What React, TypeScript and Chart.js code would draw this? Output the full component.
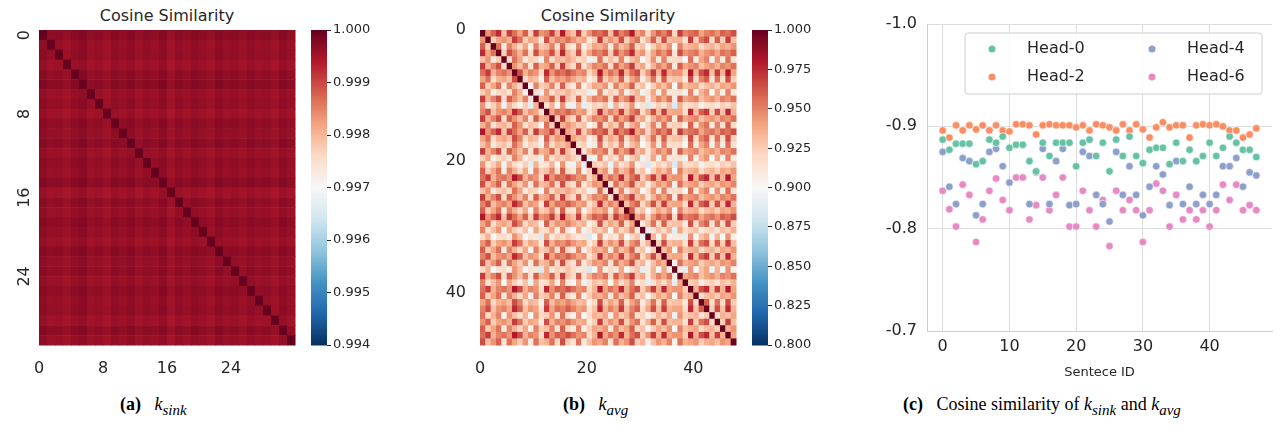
import React, { useEffect, useRef } from 'react';
import { Chart, registerables } from 'chart.js';

Chart.register(...registerables);

// ---- data ----
const sentenceIds = Array.from({ length: 48 }, (_, i) => i);

const head0 = [-0.887, -0.877, -0.883, -0.883, -0.883, -0.863, -0.866, -0.887, -0.884, -0.890, -0.879, -0.882, -0.882, -0.866, -0.856, -0.884, -0.871, -0.884, -0.884, -0.884, -0.861, -0.884, -0.887, -0.871, -0.884, -0.856, -0.887, -0.871, -0.890, -0.871, -0.864, -0.877, -0.879, -0.879, -0.863, -0.884, -0.866, -0.877, -0.866, -0.871, -0.884, -0.871, -0.879, -0.890, -0.884, -0.877, -0.877, -0.870];
const head2 = [-0.896, -0.889, -0.901, -0.896, -0.901, -0.897, -0.901, -0.896, -0.901, -0.896, -0.895, -0.902, -0.902, -0.901, -0.892, -0.901, -0.902, -0.901, -0.901, -0.901, -0.899, -0.901, -0.896, -0.902, -0.901, -0.899, -0.896, -0.902, -0.896, -0.902, -0.897, -0.889, -0.899, -0.904, -0.899, -0.901, -0.901, -0.889, -0.901, -0.902, -0.901, -0.902, -0.900, -0.896, -0.896, -0.889, -0.892, -0.898];
const head4 = [-0.875, -0.841, -0.824, -0.869, -0.866, -0.813, -0.824, -0.875, -0.878, -0.861, -0.845, -0.882, -0.882, -0.824, -0.855, -0.878, -0.824, -0.866, -0.878, -0.823, -0.824, -0.875, -0.871, -0.833, -0.824, -0.807, -0.875, -0.833, -0.861, -0.833, -0.813, -0.841, -0.861, -0.853, -0.823, -0.866, -0.824, -0.841, -0.824, -0.833, -0.824, -0.833, -0.861, -0.861, -0.869, -0.841, -0.855, -0.852];
const head6 = [-0.837, -0.819, -0.802, -0.843, -0.833, -0.787, -0.809, -0.837, -0.849, -0.828, -0.818, -0.850, -0.850, -0.809, -0.823, -0.850, -0.818, -0.833, -0.850, -0.802, -0.802, -0.837, -0.818, -0.802, -0.828, -0.783, -0.837, -0.818, -0.828, -0.818, -0.787, -0.818, -0.844, -0.837, -0.802, -0.833, -0.809, -0.818, -0.809, -0.818, -0.802, -0.818, -0.843, -0.828, -0.843, -0.818, -0.823, -0.818];

// per-token deviation used for the heatmap cells
const sinkDev = [0.00012, 0.0002, 0.00018, 0.00025, 0.00015, 0.0001, 0.00022, 0.00018, 0.00026, 0.00014, 0.00019, 0.00012, 0.00023, 0.00016, 0.0002, 0.00011, 0.00027, 0.00015, 0.00021, 0.00013, 0.00018, 0.00024, 0.00012, 0.00019, 0.00016, 0.00022, 0.00014, 0.0002, 0.00017, 0.00025, 0.00013, 0.00021];
const avgDev = [0.01, 0.02, 0.03, 0.015, 0.035, 0.02, 0.01, 0.025, 0.03, 0.04, 0.02, 0.045, 0.015, 0.02, 0.03, 0.01, 0.025, 0.035, 0.02, 0.04, 0.045, 0.03, 0.01, 0.025, 0.035, 0.02, 0.015, 0.03, 0.01, 0.025, 0.04, 0.045, 0.02, 0.03, 0.015, 0.025, 0.045, 0.02, 0.04, 0.01, 0.03, 0.025, 0.015, 0.035, 0.02, 0.03, 0.01, 0.025];
const avgGroup = [0, 1, 0, 0, 1, 0, 1, 1, 0, 1, 0, 0, 1, 0, 1, 0, 1, 1, 0, 1, 0, 0, 1, 0, 1, 0, 1, 0, 0, 1, 0, 1, 1, 0, 1, 0, 1, 0, 0, 1, 0, 1, 1, 0, 1, 0, 1, 0];

const sinkTicks = [0, 8, 16, 24];
const avgTicks = [0, 20, 40];
const sinkBarTicks = [0.994, 0.995, 0.996, 0.997, 0.998, 0.999, 1.0];
const avgBarTicks = [0.8, 0.825, 0.85, 0.875, 0.9, 0.925, 0.95, 0.975, 1.0];
const sceneTicks = [0, 10, 20, 30, 40];

const sinkMatrix = sinkDev.map((a, i) => sinkDev.map((b, j) => (i === j ? 1 : 1 - a - b)));
const avgMatrix = avgDev.map((a, i) =>
  avgDev.map((b, j) => (i === j ? 1 : 1 - a - b - (avgGroup[i] !== avgGroup[j] ? 0.025 : 0)))
);

// RdBu_r
const stops = ['#053061', '#2166ac', '#4393c3', '#92c5de', '#d1e5f0', '#f7f7f7', '#fddbc7', '#f4a582', '#d6604d', '#b2182b', '#67001f'];
const hex = (h: string) => [1, 3, 5].map(k => parseInt(h.slice(k, k + 2), 16));
const cmap = (t: number) => {
  const x = Math.max(0, Math.min(1, t)) * (stops.length - 1);
  const i = Math.min(stops.length - 2, Math.floor(x));
  const f = x - i;
  const a = hex(stops[i]);
  const b = hex(stops[i + 1]);
  return `rgb(${a.map((v, k) => Math.round(v + (b[k] - v) * f)).join(',')})`;
};

const FONT = 'DejaVu Sans';
const fixTicks = (vals: number[]) => (s: any) => {
  s.ticks = vals.map(v => ({ value: v }));
};

function heatmapConfig(matrix: number[][], lo: number, hi: number, ticks: number[], rotate: boolean, yWidth: number): any {
  const n = matrix.length;
  return {
    type: 'scatter',
    data: { datasets: [{ data: [] }] },
    options: {
      animation: false,
      responsive: false,
      layout: { padding: { top: 30, right: 4, left: 0, bottom: 0 } },
      plugins: { legend: { display: false }, tooltip: { enabled: false } },
      scales: {
        x: {
          type: 'linear', min: 0, max: n,
          afterBuildTicks: fixTicks(ticks),
          afterFit: (s: any) => { s.height = 35; },
          grid: { display: false }, border: { display: false },
          ticks: { color: '#262626', font: { family: FONT, size: 16 }, maxRotation: 0, padding: 6 },
        },
        y: {
          type: 'linear', min: 0, max: n, reverse: true,
          afterBuildTicks: fixTicks(ticks),
          afterFit: (s: any) => { s.width = yWidth; },
          grid: { display: false }, border: { display: false },
          ticks: { color: '#262626', font: { family: FONT, size: 16 }, padding: 6, minRotation: rotate ? 90 : 0, maxRotation: rotate ? 90 : 0 },
        },
      },
    },
    plugins: [{
      id: 'cells',
      beforeDatasetsDraw(chart: any) {
        const { ctx, scales: { x, y } } = chart;
        matrix.forEach((row, i) => row.forEach((v, j) => {
          const x0 = x.getPixelForValue(j), x1 = x.getPixelForValue(j + 1);
          const y0 = y.getPixelForValue(i), y1 = y.getPixelForValue(i + 1);
          ctx.fillStyle = cmap((v - lo) / (hi - lo));
          ctx.fillRect(x0, y0, x1 - x0 + 0.5, y1 - y0 + 0.5);
        }));
      },
    }],
  };
}

function colorbarConfig(lo: number, hi: number, ticks: number[], digits: number): any {
  return {
    type: 'scatter',
    data: { datasets: [{ data: [] }] },
    options: {
      animation: false,
      responsive: false,
      layout: { padding: { top: 30, left: 6, bottom: 35, right: 0 } },
      plugins: { legend: { display: false }, tooltip: { enabled: false } },
      scales: {
        x: { display: false, min: 0, max: 1 },
        y: {
          position: 'right', min: lo, max: hi,
          afterBuildTicks: fixTicks(ticks),
          afterFit: (s: any) => { s.width = 58; },
          grid: { drawOnChartArea: false, drawTicks: true, tickLength: 4, color: '#262626' },
          border: { display: false },
          ticks: { color: '#262626', font: { family: FONT, size: 13 }, padding: 2, callback: (v: any) => Number(v).toFixed(digits) },
        },
      },
    },
    plugins: [{
      id: 'bar',
      beforeDatasetsDraw(chart: any) {
        const { ctx, chartArea: a } = chart;
        for (let py = Math.floor(a.top); py < a.bottom; py++) {
          ctx.fillStyle = cmap(1 - (py - a.top) / (a.bottom - a.top));
          ctx.fillRect(a.left, py, a.right - a.left, 1.5);
        }
      },
    }],
  };
}

const heads = [
  { label: 'Head-0', data: head0, color: '#66c2a5' },
  { label: 'Head-2', data: head2, color: '#fc8d62' },
  { label: 'Head-4', data: head4, color: '#8da0cb' },
  { label: 'Head-6', data: head6, color: '#e78ac3' },
];

function scatterConfig(): any {
  return {
    type: 'scatter',
    data: {
      datasets: heads.map(h => ({
        label: h.label,
        data: h.data.map((v, i) => ({ x: sentenceIds[i], y: v })),
        backgroundColor: h.color,
        borderColor: '#ffffff',
        borderWidth: 0.6,
        pointRadius: 3.8,
      })),
    },
    options: {
      animation: false,
      responsive: false,
      layout: { padding: { top: 24, right: 8, left: 0, bottom: 0 } },
      plugins: { legend: { display: false }, tooltip: { enabled: false } },
      scales: {
        x: {
          type: 'linear', min: -2.35, max: 49.35,
          afterBuildTicks: fixTicks(sceneTicks),
          afterFit: (s: any) => { s.height = 49; },
          grid: { color: '#dddddd', drawTicks: false },
          border: { color: '#cccccc' },
          ticks: { color: '#262626', font: { family: FONT, size: 16 }, padding: 6 },
          title: { display: true, text: 'Sentece ID', color: '#262626', font: { family: FONT, size: 13 }, padding: 0 },
        },
        y: {
          type: 'linear', min: -1.0, max: -0.7, reverse: true,
          afterBuildTicks: fixTicks([-1.0, -0.9, -0.8, -0.7]),
          afterFit: (s: any) => { s.width = 67; },
          grid: { color: '#dddddd', drawTicks: false },
          border: { color: '#cccccc' },
          ticks: { color: '#262626', font: { family: FONT, size: 16 }, padding: 10, callback: (v: any) => Number(v).toFixed(1) },
        },
      },
    },
    plugins: [{
      id: 'innerLegend',
      afterDatasetsDraw(chart: any) {
        const { ctx, chartArea: a } = chart;
        const x0 = a.left + 38, y0 = a.top + 9, w = 297, hgt = 61;
        ctx.save();
        ctx.fillStyle = 'rgba(255,255,255,0.85)';
        ctx.strokeStyle = '#cccccc';
        ctx.lineWidth = 1;
        ctx.beginPath();
        ctx.roundRect(x0, y0, w, hgt, 3);
        ctx.fill();
        ctx.stroke();
        ctx.font = `16px ${FONT}`;
        ctx.textBaseline = 'middle';
        heads.forEach((h, k) => {
          const col = Math.floor(k / 2), row = k % 2;
          const cx = x0 + 27 + col * 160, cy = y0 + 16 + row * 28;
          ctx.fillStyle = h.color;
          ctx.beginPath();
          ctx.arc(cx, cy, 3.5, 0, Math.PI * 2);
          ctx.fill();
          ctx.fillStyle = '#262626';
          ctx.fillText(h.label, cx + 35, cy);
        });
        ctx.restore();
      },
    }],
  };
}

function ChartBox({ config, left, top, width, height }: { config: () => any; left: number; top: number; width: number; height: number }) {
  const ref = useRef<HTMLCanvasElement>(null);
  useEffect(() => {
    if (!ref.current) return;
    const chart = new Chart(ref.current, config());
    return () => chart.destroy();
  }, []);
  return <canvas ref={ref} width={width} height={height} style={{ position: 'absolute', left, top, width, height }} />;
}

const captionStyle: React.CSSProperties = { position: 'absolute', top: 394, fontFamily: '"Liberation Serif", "DejaVu Serif", serif', fontSize: 18, color: '#000', whiteSpace: 'nowrap' };
const titleStyle: React.CSSProperties = { position: 'absolute', top: 6, width: 256, textAlign: 'center', fontFamily: FONT, fontSize: 16, color: '#262626' };

export default function App() {
  return (
    <div style={{ position: 'fixed', left: 0, top: 0, width: 1280, height: 438, background: '#fff', overflow: 'hidden' }}>
      <div style={{ ...titleStyle, left: 39 }}>Cosine Similarity</div>
      <div style={{ ...titleStyle, left: 480 }}>Cosine Similarity</div>
      <ChartBox config={() => heatmapConfig(sinkMatrix, 0.994, 1.0, sinkTicks, true, 39)} left={0} top={0} width={299} height={380} />
      <ChartBox config={() => colorbarConfig(0.994, 1.0, sinkBarTicks, 3)} left={305} top={0} width={80} height={380} />
      <ChartBox config={() => heatmapConfig(avgMatrix, 0.8, 1.0, avgTicks, false, 40)} left={440} top={0} width={300} height={380} />
      <ChartBox config={() => colorbarConfig(0.8, 1.0, avgBarTicks, 3)} left={746} top={0} width={80} height={380} />
      <ChartBox config={scatterConfig} left={860} top={0} width={420} height={380} />
      <div style={{ ...captionStyle, left: 120 }}><b>(a)</b>&nbsp;&nbsp; <i>k</i><sub><i>sink</i></sub></div>
      <div style={{ ...captionStyle, left: 563 }}><b>(b)</b>&nbsp;&nbsp; <i>k</i><sub><i>avg</i></sub></div>
      <div style={{ ...captionStyle, left: 903 }}><b>(c)</b>&nbsp;&nbsp; Cosine similarity of <i>k</i><sub><i>sink</i></sub> and <i>k</i><sub><i>avg</i></sub></div>
    </div>
  );
}
